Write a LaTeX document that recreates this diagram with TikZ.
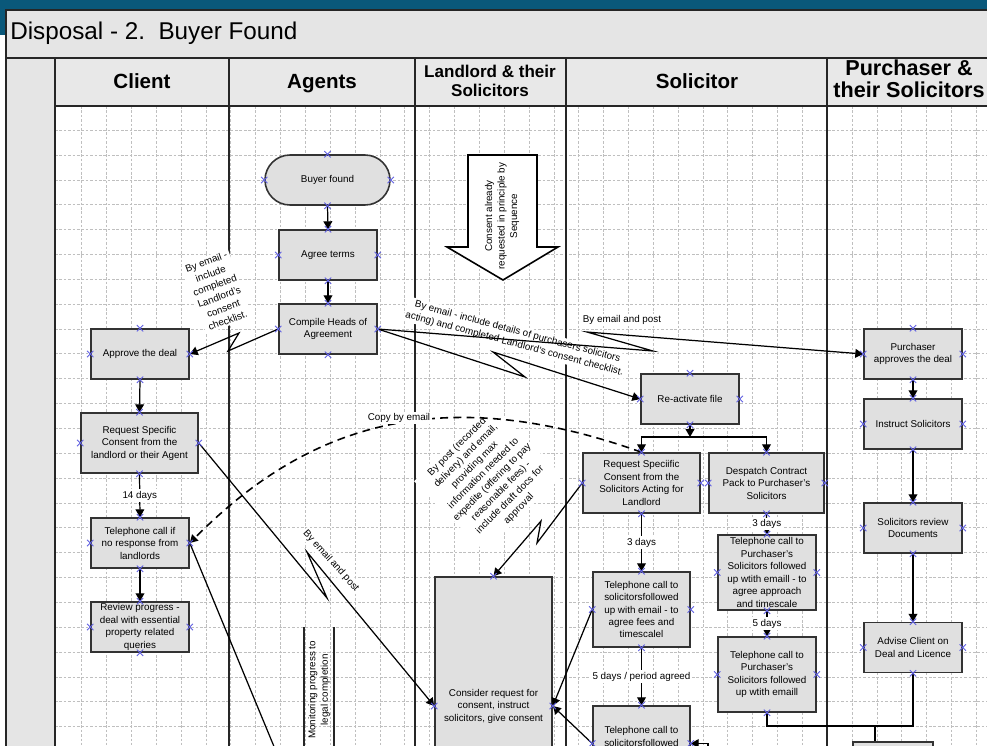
\documentclass[tikz,border=0pt]{standalone}
\usepackage{fontspec}
\setmainfont{Liberation Sans}
\usepackage{xcolor}
\usetikzlibrary{arrows}
\usetikzlibrary{arrows.meta}
\usetikzlibrary{shapes.misc}
\definecolor{bandcol}{RGB}{10,88,122}
\definecolor{cptcol}{RGB}{96,96,226}
\newcommand{\boxfont}{\fontsize{5.6}{7.1}\selectfont}
\newcommand{\lanefont}{\fontsize{11.7}{13}\selectfont\bfseries}
\newcommand{\titlefont}{\fontsize{13.8}{16}\selectfont}

\begin{document}
\begin{tikzpicture}[x=0.02cm,y=-0.02cm]
\tikzstyle{proc}=[draw=black!80, fill=black!12, line width=0.9pt, minimum width=1.96cm, minimum height=1cm, inner sep=0pt, align=center, font=\boxfont]
\tikzstyle{note}=[fill=white, inner sep=1pt, align=center, font=\boxfont]
\tikzstyle{flow}=[line width=0.7pt, arrows={-{Triangle[length=4.5pt,width=5pt]}}]
\tikzstyle{lane}=[draw=black!85, line width=1.1pt]
\tikzstyle{gridline}=[draw=black!25, line width=0.4pt, dash pattern=on 1.5pt off 1pt]
\tikzstyle{cpt}=[cross out, draw=cptcol, line width=0.5pt, minimum size=0.11cm, inner sep=0pt]

\useasboundingbox (0,0) rectangle (987,745);
\clip (0,0) rectangle (987,745);

% frame, grid and swimlanes
\fill[white] (0,0) rectangle (987,745);
\fill[bandcol] (0,0) rectangle (987,10);
\fill[bandcol] (0,0) rectangle (6,35);
\foreach \i in {1,...,37}
  \draw[gridline] ({56.85+24.85*\i},106) -- ({56.85+24.85*\i},745);
\foreach \j in {0,...,24}
  \draw[gridline] (55,{130.15+24.85*\j}) -- (987,{130.15+24.85*\j});
\draw[lane, fill=black!10] (6,10) rectangle (1000,58);
\draw[lane, fill=black!10] (6,58) rectangle (55,760);
\draw[lane, fill=black!9] (55,58) rectangle (1000,106);
\foreach \x in {229,415,566,827}
  \draw[lane] (\x,58) -- (\x,760);

\node[anchor=west, font=\titlefont, inner sep=0pt] (title) at (10,33) {Disposal - 2.~~Buyer Found};
\node[font=\lanefont, anchor=base] (hclient) at (142,88) {Client};
\node[font=\lanefont, anchor=base] (hagents) at (322,88) {Agents};
\node[font=\fontsize{9.7}{10.4}\selectfont\bfseries, align=center] (hland) at (490,81) {Landlord \& their\\Solicitors};
\node[font=\lanefont, anchor=base] (hsol) at (697,88) {Solicitor};
\node[font=\fontsize{12.3}{12.8}\selectfont\bfseries, align=center] (hpur) at (909,79) {Purchaser \&\\their Solicitors};

% consent arrow and monitoring band
\draw[line width=0.9pt, fill=white] (468,155) -- (537,155) -- (537,247) -- (558,247) -- (503,280) -- (447,247) -- (468,247) -- cycle;
\node[font=\boxfont, align=center, rotate=90] (seqnote) at (502,216) {Consent already\\requested in principle by\\Sequence};
\draw[lane, line width=0.9pt] (304,627) -- (304,760);
\draw[lane, line width=0.9pt] (334,627) -- (334,760);
\node[font=\boxfont, align=center, rotate=90] (monitor) at (319,690) {Monitoring progress to\\legal completion};

% agents and client
\node[proc, minimum width=2.5cm, rounded corners=0.5cm] (buyer) at (327.5,180) {Buyer found};
\node[proc] (agree) at (328,255) {Agree terms};
\node[proc] (heads) at (328,329) {Compile Heads of\\Agreement};
\node[proc] (approve) at (140,354) {Approve the deal};
\node[proc, minimum width=2.34cm, minimum height=1.2cm] (reqcl) at (139.5,443) {Request Specific\\Consent from the\\landlord or their Agent};
\node[proc] (telcl) at (140,543) {Telephone call  if\\no response from\\landlords};
\node[proc] (review) at (140,627) {Review progress -\\deal with essential\\property related\\queries};

% landlord and solicitor
\node[proc, minimum width=2.34cm, minimum height=5.16cm] (consider) at (493.5,706) {Consider request for\\consent, instruct\\solicitors, give consent};
\node[proc] (reactiv) at (690,399) {Re-activate file};
\node[proc, minimum width=2.34cm, minimum height=1.2cm] (reqsol) at (641.5,483) {Request Speciific\\Consent from the\\Solicitors Acting for\\Landlord};
\node[proc, minimum width=2.3cm, minimum height=1.2cm] (despatch) at (766.5,483) {Despatch Contract\\Pack to Purchaser's\\Solicitors};
\node[proc, minimum width=1.94cm, minimum height=1.5cm] (telsol) at (641.5,609.5) {Telephone call to\\solicitorsfollowed\\up with email - to\\agree fees and\\timescalel};
\node[proc, minimum width=1.94cm, minimum height=1.5cm] (telsol2) at (641.5,743.5) {Telephone call to\\solicitorsfollowed\\up with email};
\node[proc, minimum height=1.5cm] (purtel1) at (767,572.5) {Telephone call  to\\Purchaser's\\Solicitors followed\\up wtith emaill - to\\agree approach\\and timescale};
\node[proc, minimum height=1.5cm] (purtel2) at (767,674.5) {Telephone call  to\\Purchaser's\\Solicitors followed\\up wtith emaill};

% purchaser
\node[proc] (purch) at (913,354) {Purchaser\\approves the deal};
\node[proc] (instr) at (913,424) {Instruct Solicitors};
\node[proc] (revdoc) at (913,528) {Solicitors review\\Documents};
\node[proc] (advise) at (913,647.5) {Advise Client on\\Deal and Licence};
\node[proc, minimum width=1.6cm] (nextbox) at (893,767) {};

% message notes
\node[note, rotate=20] (n1) at (217,291) {By email -\\include\\completed\\Landlord's\\consent\\checklist.};
\node[note, rotate=-15] (n2) at (516,338) {By email - include details of purchasers solicitors\\acting) and completed Landlord's consent checklist.};
\node[note] (n3) at (622,320) {By email and post};
\node[note, rotate=-48] (n4) at (331,561) {By email and post};
\node[note, rotate=45] (n5) at (488,478) {By post (recorded\\delivery) and email,\\providing max\\information needed to\\expedite (offering to pay\\reasonable fees) -\\include draft docs for\\approval};

% connectors
\draw[flow] (buyer.south) -- (agree.north);
\draw[flow] (agree.south) -- (heads.north);
\coordinate (z1) at (228,351);
\coordinate (z2) at (239,333);
\draw[flow] (heads.west) -- (z1) -- (z2) -- (approve.east);
\coordinate (z3) at (653,351);
\coordinate (z4) at (587,332);
\draw[flow] (heads.east) -- (z3) -- (z4) -- (purch.west);
\coordinate (z5) at (525,377);
\coordinate (z6) at (493,352);
\draw[flow] (heads.east) -- (z5) -- (z6) -- (reactiv.west);
\draw[flow] (approve.south) -- (reqcl.north);
\draw[flow] (reqcl.south) -- node[note]{14 days} (telcl.north);
\draw[flow] (telcl.south) -- (review.north);
\coordinate (z7) at (327,598);
\coordinate (z8) at (307,552);
\draw[flow] (reqcl.east) -- (z7) -- (z8) -- (consider.west);
\coordinate (offa) at (292,790);
\draw[flow] (telcl.east) -- (offa);
\coordinate (split) at (690,437);
\draw[flow] (reactiv.south) -- (split);
\draw[flow] (split) -| (reqsol.north);
\draw[flow] (split) -| (despatch.north);
\draw[flow, dash pattern=on 4.5pt off 3pt, line width=0.9pt] (reqsol.north) .. controls (434,378) and (302,430) .. (telcl.east);
\node[note] (n6) at (399,418) {Copy by email};
\coordinate (z9) at (537,543);
\coordinate (z10) at (541,521);
\draw[flow] (reqsol.west) -- (z9) -- (z10) -- (consider.north);
\draw[flow] (reqsol.south) -- node[note]{3 days} (telsol.north);
\draw[flow] (telsol.south) -- node[note]{5 days / period agreed} (telsol2.north);
\draw[flow] (telsol.west) -- (consider.east);
\draw[flow] (telsol2.west) -- (consider.east);
\coordinate (stubin) at (708,760);
\draw[flow] (stubin) |- (telsol2.east);
\draw[flow] (despatch.south) -- node[note]{3 days} (purtel1.north);
\draw[flow] (purtel1.south) -- node[note]{5 days} (purtel2.north);
\draw[flow] (purch.south) -- (instr.north);
\draw[flow] (instr.south) -- (revdoc.north);
\draw[flow] (revdoc.south) -- (advise.north);
\coordinate (jn) at (875,726);
\draw[line width=0.7pt] (purtel2.south) |- (jn) -| (advise.south);
\draw[line width=0.7pt] (jn) -- (jn |- nextbox.north);

% connection points
\foreach \nd in {buyer,agree,heads,approve,reqcl,telcl,review,consider,reactiv,reqsol,despatch,telsol,telsol2,purtel1,purtel2,purch,instr,revdoc,advise}
  \foreach \an in {north,south,east,west}
    \node[cpt] at (\nd.\an) {};
\end{tikzpicture}
\end{document}
